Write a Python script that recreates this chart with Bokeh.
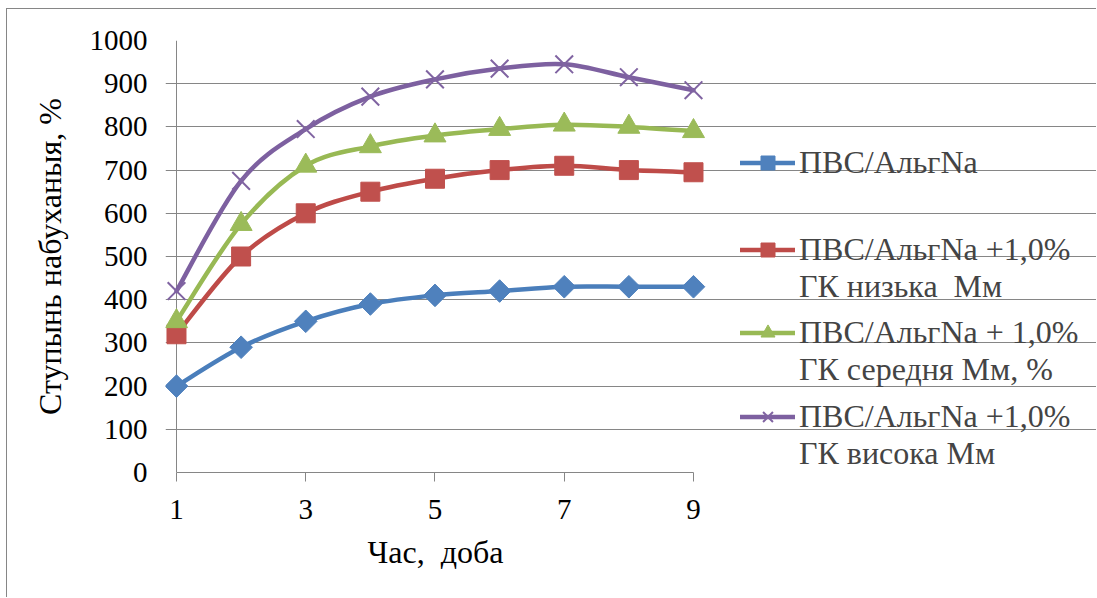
import math
from bokeh.plotting import figure
from bokeh.models import (Range1d, FixedTicker, Legend, LegendItem, ColumnDataSource, Title)
from bokeh.embed import file_html
from bokeh.resources import INLINE

# ---------------- data ----------------
days = [1, 2, 3, 4, 5, 6, 7, 8, 9]
pvs_alg = [200, 290, 350, 390, 410, 420, 430, 430, 430]
gk_low = [320, 500, 600, 650, 680, 700, 710, 700, 695]
gk_mid = [350, 575, 710, 755, 780, 795, 805, 800, 790]
gk_high = [420, 675, 795, 870, 910, 935, 945, 915, 885]

series_labels = [
    ["ПВС/АльгNa"],
    ["ПВС/АльгNa +1,0%", "ГК низька  Мм"],
    ["ПВС/АльгNa + 1,0%", "ГК середня Мм, %"],
    ["ПВС/АльгNa +1,0%", "ГК висока Мм"],
]
x_ticks = [1, 3, 5, 7, 9]
y_ticks = [0, 100, 200, 300, 400, 500, 600, 700, 800, 900, 1000]
x_title = "Час,\u00a0 доба"
y_title = "Ступынь набуханыя, %"

FONT = "Liberation Serif"
GRID = "#868686"

line_colors = ["#4A7EBB", "#BE4B48", "#98B954", "#7D60A0"]
fill_colors = ["#4F81BD", "#C0504D", "#9BBB59", "#8064A2"]
markers = ["square", "square", "triangle", "x"]
angles = [math.pi / 4, 0, 0, 0]
msizes = [16, 19, 22, 25]

TICK = 9              # tick length, px
PX_PER_DAY = 64.625   # horizontal scale, px per day
W, H = 1090, 589
LEFT, TOP, BOTTOM = 158, 31, 126
X0 = 0.83
X1 = X0 + (W - LEFT) / PX_PER_DAY
LEG_LINE = 35         # legend line pitch, px
LEG_X = 575           # legend left, px from frame left
LEG_BOTTOMS = [291, 167, 84, 0]   # legend bottoms, px above frame bottom

p = figure(width=W, height=H, output_backend="svg", toolbar_location=None,
           x_range=Range1d(X0, X1), y_range=Range1d(0, 1000),
           min_border_left=LEFT, min_border_right=0, min_border_top=TOP,
           min_border_bottom=BOTTOM,
           margin=(8, 0, 0, 6),
           styles={"border-left": "1px solid #868686",
                   "border-top": "1px solid #868686"})
p.outline_line_color = None
p.background_fill_color = "white"
p.border_fill_color = "white"

for ax in (p.xaxis[0], p.yaxis[0]):
    ax.major_tick_line_color = GRID
    ax.major_tick_in = 0
    ax.minor_tick_line_color = None
    ax.major_label_text_font = FONT
    ax.major_label_text_font_size = "29px"
    ax.major_label_text_color = "black"
    ax.axis_label_text_font = FONT
    ax.axis_label_text_font_size = "32px"
    ax.axis_label_text_font_style = "normal"
    ax.axis_label_text_color = "black"
p.xaxis.ticker = FixedTicker(ticks=x_ticks)
p.yaxis.ticker = FixedTicker(ticks=y_ticks)
p.xaxis.axis_line_color = GRID
p.xaxis.bounds = (1, 9)
p.xaxis.major_tick_out = TICK
p.yaxis.axis_line_color = None
p.yaxis.major_tick_out = 0
p.yaxis.major_tick_line_color = None
p.yaxis.axis_label = y_title
p.xaxis.major_label_standoff = 18
p.yaxis.major_label_standoff = 18
p.yaxis.axis_label_standoff = 19

p.add_layout(Title(text=x_title, align="left", offset=202, standoff=20,
                   text_font=FONT, text_font_size="32px",
                   text_font_style="normal", text_color="black"), "below")

p.xgrid.ticker = FixedTicker(ticks=[1])
p.xgrid.grid_line_color = GRID
p.xgrid.bounds = (0, 1000)
p.ygrid.ticker = FixedTicker(ticks=y_ticks)
p.ygrid.grid_line_color = GRID
p.ygrid.bounds = (1 - TICK / PX_PER_DAY, 9)


def smooth_controls(xs, ys):
    n = len(xs)
    d = dict(x0=[], y0=[], x1=[], y1=[], cx0=[], cy0=[], cx1=[], cy1=[])
    for i in range(n - 1):
        xm, ym = (xs[i - 1], ys[i - 1]) if i > 0 else (xs[i], ys[i])
        xp, yp = (xs[i + 2], ys[i + 2]) if i + 2 < n else (xs[i + 1], ys[i + 1])
        d["x0"].append(xs[i]); d["y0"].append(ys[i])
        d["x1"].append(xs[i + 1]); d["y1"].append(ys[i + 1])
        d["cx0"].append(xs[i] + (xs[i + 1] - xm) / 6)
        d["cy0"].append(ys[i] + (ys[i + 1] - ym) / 6)
        d["cx1"].append(xs[i + 1] - (xp - xs[i]) / 6)
        d["cy1"].append(ys[i + 1] - (yp - ys[i]) / 6)
    return d


blank = p.scatter(x=[], y=[], size=0, fill_alpha=0, line_alpha=0)

all_series = [pvs_alg, gk_low, gk_mid, gk_high]
for k, ys in enumerate(all_series):
    src = ColumnDataSource(smooth_controls(days, ys))
    br = p.bezier(x0="x0", y0="y0", x1="x1", y1="y1", cx0="cx0", cy0="cy0",
                  cx1="cx1", cy1="cy1", source=src, line_color=line_colors[k],
                  line_width=4.5, line_cap="round")
    if markers[k] == "x":
        sr = p.scatter(days, ys, marker="x", size=msizes[k],
                       line_color=fill_colors[k], line_width=2)
    else:
        sr = p.scatter(days, ys, marker=markers[k], size=msizes[k],
                       angle=angles[k],
                       fill_color=fill_colors[k], line_color=fill_colors[k],
                       line_width=1)
    lines = series_labels[k]
    items = [LegendItem(label=lines[0], renderers=[br, sr])]
    for extra in lines[1:]:
        items.append(LegendItem(label=extra, renderers=[blank]))
    lg = Legend(items=items, location=(LEG_X, LEG_BOTTOMS[k]),
                glyph_width=55, glyph_height=LEG_LINE, label_height=LEG_LINE,
                label_standoff=4, spacing=0,
                padding=0, margin=0, border_line_color=None,
                background_fill_alpha=0,
                label_text_font=FONT, label_text_font_size="32px",
                label_text_line_height=1.0)
    p.add_layout(lg, "center")

open("out.html", "w").write(file_html(p, INLINE))
